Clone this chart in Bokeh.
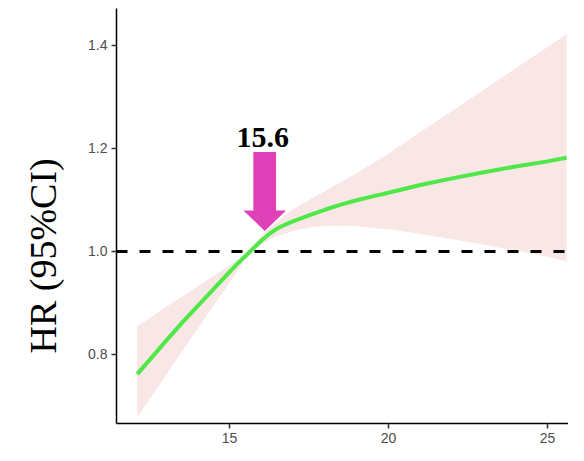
from bokeh.plotting import figure
from bokeh.models import Range1d, FixedTicker, Span, Title, PrintfTickFormatter
from bokeh.core.properties import value
from bokeh.embed import file_html
from bokeh.resources import INLINE

# ---- data ----
bmi = [12.1, 12.5, 13.0, 13.5, 14.0, 14.5, 15.0, 15.25, 15.5, 15.75, 16.0, 16.25, 16.5,
       16.75, 17.0, 17.25, 17.5, 17.75, 18.0, 18.5, 19.0, 19.5, 20.0, 21.0, 22.0, 23.0,
       24.0, 25.0, 25.6]
hr = [0.762, 0.790, 0.826, 0.861, 0.894, 0.927, 0.960, 0.976, 0.991, 1.006, 1.021, 1.034,
      1.0445, 1.052, 1.0585, 1.0645, 1.070, 1.0755, 1.081, 1.091, 1.0995, 1.107, 1.114,
      1.129, 1.142, 1.154, 1.165, 1.175, 1.182]
hr_lower = [0.678, 0.714, 0.759, 0.805, 0.850, 0.895, 0.940, 0.962, 0.985, 1.000, 1.013,
            1.023, 1.030, 1.035, 1.040, 1.043, 1.046, 1.048, 1.049, 1.050, 1.049, 1.046,
            1.043, 1.034, 1.024, 1.013, 1.002, 0.990, 0.981]
hr_upper = [0.855, 0.871, 0.892, 0.912, 0.932, 0.953, 0.973, 0.984, 0.996, 1.012, 1.030,
            1.045, 1.058, 1.071, 1.082, 1.091, 1.100, 1.109, 1.117, 1.135, 1.152, 1.171,
            1.190, 1.232, 1.273, 1.314, 1.356, 1.397, 1.422]
x_ticks = [15, 20, 25]
y_ticks = [0.8, 1.0, 1.2, 1.4]
ref_hr = 1.0
cutoff_label = "15.6"
y_title = "HR (95%CI)"

# arrow annotation (data units)
ARROW_X = 16.11
ARROW_TIP = 1.040
ARROW_NECK = 1.0796
ARROW_TOP = 1.193
SHAFT_HALF = 0.357
HEAD_HALF = 0.67
LABEL_X = 16.05
LABEL_Y = 1.2204

p = figure(width=568, height=445, output_backend="svg", toolbar_location=None,
           x_range=Range1d(11.45, 25.66), y_range=Range1d(0.666, 1.4718),
           min_border_left=116, min_border_right=0, min_border_top=8, min_border_bottom=22)
p.outline_line_color = None
p.background_fill_color = "white"
p.border_fill_color = "white"
p.xgrid.visible = False
p.ygrid.visible = False

# confidence band
p.varea(x=bmi, y1=hr_lower, y2=hr_upper, fill_color="#F8E7E5", fill_alpha=1.0)

# reference line
p.add_layout(Span(location=ref_hr, dimension="width", line_color="black",
                  line_width=3, line_dash="11 12"))

# spline
p.line(bmi, hr, line_color="#50E748", line_width=4, line_join="round")

# arrow
ax = [ARROW_X - SHAFT_HALF, ARROW_X + SHAFT_HALF, ARROW_X + SHAFT_HALF, ARROW_X + HEAD_HALF,
      ARROW_X, ARROW_X - HEAD_HALF, ARROW_X - SHAFT_HALF]
ay = [ARROW_TOP, ARROW_TOP, ARROW_NECK, ARROW_NECK, ARROW_TIP, ARROW_NECK, ARROW_NECK]
p.patch(ax, ay, fill_color="#E040B8", line_color=None)

p.text(x=[LABEL_X], y=[LABEL_Y], text=[cutoff_label], text_align="center",
       text_baseline="middle", text_font=value("Liberation Serif"),
       text_font_style="bold", text_font_size="30px", text_color="black")

for ax_ in (p.xaxis, p.yaxis):
    ax_.axis_line_color = "black"
    ax_.axis_line_width = 1.5
    ax_.major_tick_line_color = "#333333"
    ax_.major_tick_line_width = 1.5
    ax_.major_tick_out = 5
    ax_.major_tick_in = 0
    ax_.minor_tick_line_color = None
    ax_.major_label_text_font = "Liberation Sans"
    ax_.major_label_text_font_size = "14px"
    ax_.major_label_text_color = "#4D4D4D"
    ax_.major_label_standoff = 4

p.xaxis.ticker = FixedTicker(ticks=x_ticks)
p.yaxis.ticker = FixedTicker(ticks=y_ticks)
p.yaxis.formatter = PrintfTickFormatter(format="%.1f")

# y-axis title as a left-side title, shifted upward like the reference
p.add_layout(Title(text=y_title, align="left", offset=70, vertical_align="top",
                   standoff=40, text_font="Liberation Serif", text_font_style="normal",
                   text_font_size="38px", text_color="black"), "left")

open("out.html", "w").write(file_html(p, INLINE))
